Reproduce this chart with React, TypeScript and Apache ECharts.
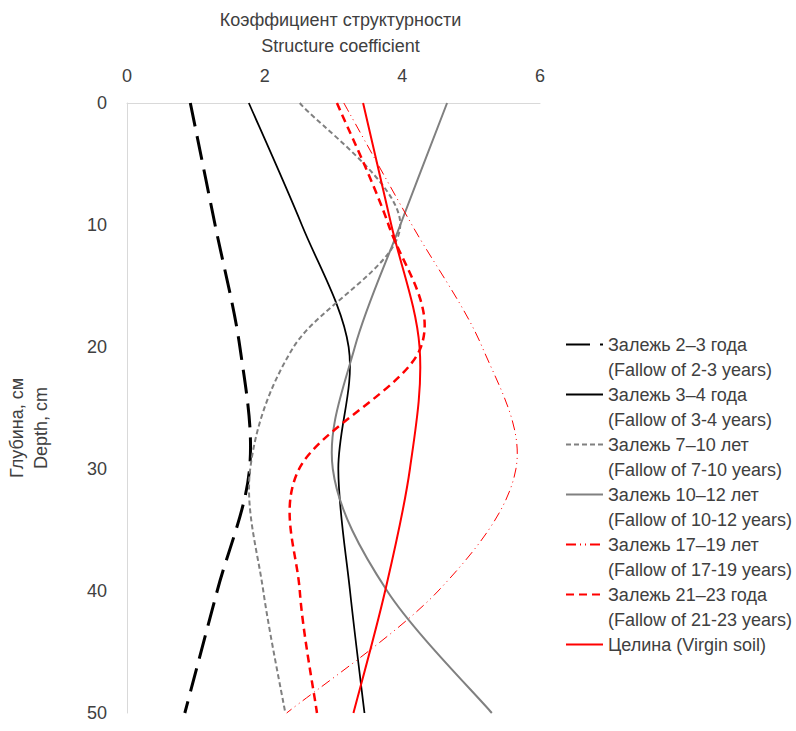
import React, { useEffect, useRef } from 'react';
import * as echarts from 'echarts';

// Depth of sampling, cm
const depths = [0, 10, 20, 30, 40, 50];

// Structure coefficient by depth
const fallow2_3 = [0.92, 1.28, 1.64, 1.78, 1.31, 0.84];
const fallow3_4 = [1.77, 2.54, 3.22, 3.07, 3.24, 3.45];
const fallow7_10 = [2.51, 3.97, 2.42, 1.79, 1.98, 2.3];
const fallow10_12 = [4.65, 3.97, 3.31, 2.99, 3.78, 5.3];
const fallow17_19 = [3.15, 4.14, 5.16, 5.65, 4.52, 2.32];
const fallow21_23 = [3.05, 3.8, 4.27, 2.5, 2.51, 2.76];
const virginSoil = [3.43, 3.84, 4.25, 4.11, 3.75, 3.29];

const seriesNames = [
  'Залежь 2–3 года\n(Fallow of 2-3 years)',
  'Залежь 3–4 года\n(Fallow of 3-4 years)',
  'Залежь 7–10 лет\n(Fallow of 7-10 years)',
  'Залежь 10–12 лет\n(Fallow of 10-12 years)',
  'Залежь 17–19 лет\n(Fallow of 17-19 years)',
  'Залежь 21–23 года\n(Fallow of 21-23 years)',
  'Целина (Virgin soil)',
];

const xAxisTitle = 'Коэффициент структурности\nStructure coefficient';
const yAxisTitle = 'Глубина, см\nDepth, cm';

// Excel-like smoothed line (cardinal Bezier through the points, in pixel space)
function smoothPath(p: number[][]): string {
  const t = 1 / 6;
  let d = `M${p[0][0]},${p[0][1]}`;
  for (let i = 0; i < p.length - 1; i++) {
    const p0 = p[i - 1] || p[i];
    const p1 = p[i];
    const p2 = p[i + 1];
    const p3 = p[i + 2] || p[i + 1];
    const seg = Math.hypot(p2[0] - p1[0], p2[1] - p1[1]);
    const la = Math.hypot(p2[0] - p0[0], p2[1] - p0[1]);
    const lb = Math.hypot(p3[0] - p1[0], p3[1] - p1[1]);
    const fa = la * t > seg / 2 ? seg / (2 * la) : t;
    const fb = lb * t > seg / 2 ? seg / (2 * lb) : t;
    const c1 = [p1[0] + (p2[0] - p0[0]) * fa, p1[1] + (p2[1] - p0[1]) * fa];
    const c2 = [p2[0] - (p3[0] - p1[0]) * fb, p2[1] - (p3[1] - p1[1]) * fb];
    d += ` C${c1[0]},${c1[1]} ${c2[0]},${c2[1]} ${p2[0]},${p2[1]}`;
  }
  return d;
}

export default function App() {
  const ref = useRef<HTMLDivElement>(null);

  useEffect(() => {
    if (!ref.current) return;
    const chart = echarts.init(ref.current, null, { renderer: 'svg' });
    const font = 'Liberation Sans';
    const textColor = '#404040';
    const axisColor = '#D9D9D9';

    const specs = [
      { name: seriesNames[0], values: fallow2_3, color: '#000000', width: 3, dash: [24, 10] },
      { name: seriesNames[1], values: fallow3_4, color: '#000000', width: 1.75, dash: null },
      { name: seriesNames[2], values: fallow7_10, color: '#808080', width: 2, dash: [5, 3] },
      { name: seriesNames[3], values: fallow10_12, color: '#808080', width: 2, dash: null },
      { name: seriesNames[4], values: fallow17_19, color: '#FF0000', width: 1, dash: [10, 4, 1, 4, 1, 4] },
      { name: seriesNames[5], values: fallow21_23, color: '#FF0000', width: 2.5, dash: [8, 5] },
      { name: seriesNames[6], values: virginSoil, color: '#FF0000', width: 2, dash: null },
    ];

    // Line series carry the legend entries (their own stroke is hidden)
    const legendSeries = specs.map((s) => ({
      name: s.name,
      type: 'line',
      data: s.values.map((v, i) => [v, depths[i]]),
      symbol: 'none',
      lineStyle: { color: s.color, width: s.width, type: s.dash || 'solid', opacity: 0 },
      itemStyle: { color: s.color },
      emphasis: { disabled: true },
      silent: true,
    }));

    // Custom series draw the smoothed curves through the axes' scales
    const curveSeries = specs.map((s, idx) => ({
      name: 'curve' + idx,
      type: 'custom',
      coordinateSystem: 'cartesian2d',
      data: s.values.map((v, i) => [v, depths[i]]),
      encode: { x: 0, y: 1 },
      silent: true,
      renderItem: (params: any, api: any) => {
        if (params.dataIndex !== 0) return null;
        const pts = s.values.map((v, i) => api.coord([v, depths[i]]));
        return {
          type: 'path',
          shape: { pathData: smoothPath(pts) },
          style: {
            fill: 'none',
            stroke: s.color,
            lineWidth: s.width,
            lineDash: s.dash || null,
          },
        };
      },
    }));

    chart.setOption({
      animation: false,
      backgroundColor: '#ffffff',
      grid: { left: 127, top: 103, width: 413, height: 610, containLabel: false, outerBoundsMode: 'none' },
      xAxis: {
        type: 'value',
        position: 'top',
        min: 0,
        max: 6,
        interval: 2,
        name: xAxisTitle,
        nameLocation: 'middle',
        nameGap: 44,
        nameTextStyle: { fontFamily: font, fontSize: 18, color: textColor, lineHeight: 26, padding: [0, 0, 0, 14] },
        axisLine: { show: true, lineStyle: { color: axisColor, width: 1 } },
        axisTick: { show: false },
        splitLine: { show: false },
        axisLabel: { fontFamily: font, fontSize: 18, color: textColor, margin: 18 },
      },
      yAxis: {
        type: 'value',
        inverse: true,
        min: 0,
        max: 50,
        interval: 10,
        name: yAxisTitle,
        nameLocation: 'middle',
        nameGap: 74,
        nameRotate: 90,
        nameTextStyle: { fontFamily: font, fontSize: 18, color: textColor, lineHeight: 24, padding: [0, 40, 0, 0] },
        axisLine: { show: true, lineStyle: { color: axisColor, width: 1 } },
        axisTick: { show: false },
        splitLine: { show: false },
        axisLabel: { fontFamily: font, fontSize: 18, color: textColor, margin: 20 },
      },
      legend: {
        orient: 'vertical',
        left: 565,
        top: 307,
        padding: 0,
        itemWidth: 37,
        itemHeight: 14,
        itemGap: -25,
        selectedMode: false,
        itemStyle: { opacity: 0 },
        lineStyle: { opacity: 1 },
        data: seriesNames,
        formatter: (name: string) => (name.indexOf('\n') >= 0 ? '\n' + name : '\n' + name + '\n'),
        textStyle: { fontFamily: font, fontSize: 18, color: textColor, lineHeight: 25 },
      },
      series: [...legendSeries, ...curveSeries],
    });

    return () => chart.dispose();
  }, []);

  return (
    <div
      ref={ref}
      style={{ position: 'fixed', left: 0, top: 0, width: 796, height: 731, background: '#ffffff' }}
    />
  );
}
